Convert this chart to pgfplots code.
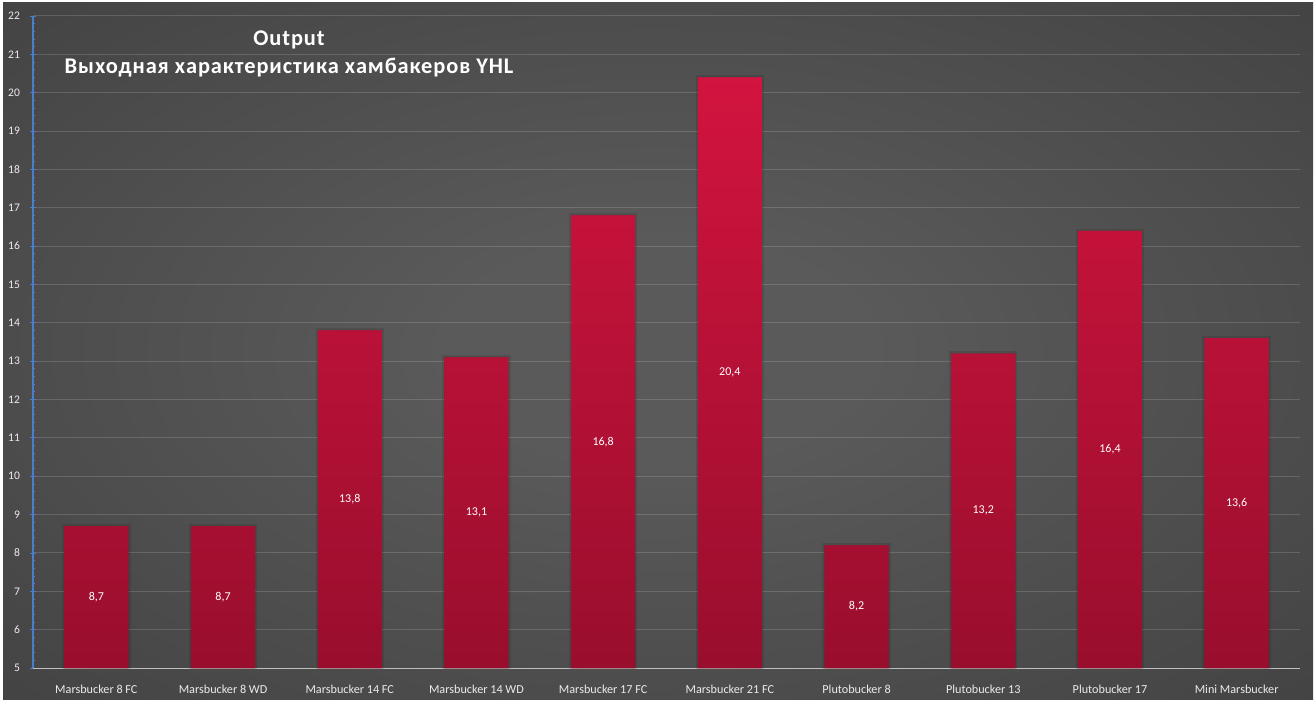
\documentclass[border=0pt]{standalone}
\usepackage{fontspec}
\setmainfont{Carlito}
\newfontfamily\titlefont[LetterSpace=4]{Carlito}
\usepackage{pgfplots}
\pgfplotsset{compat=1.18}
\definecolor{bgin}{HTML}{5A5A5A}
\definecolor{bgout}{HTML}{262626}
\definecolor{bartop}{HTML}{D2143F}
\definecolor{barbot}{HTML}{990E2D}
\definecolor{yaxblue}{HTML}{4A7EC8}
\pgfdeclareradialshading{bgshade}{\pgfpoint{0bp}{0bp}}{color(0bp)=(bgin); color(8bp)=(bgin); color(71bp)=(bgout); color(100bp)=(bgout)}
\begin{document}
\begin{tikzpicture}
\fill[white] (0,0) rectangle (658pt,351pt);
\shade[shading=bgshade] (1.5pt,1.5pt) rectangle (656.5pt,349.5pt);
\begin{axis}[
  at={(16.5pt,17pt)}, anchor=south west,
  scale only axis, width=633.5pt, height=326pt,
  ybar, bar width=32pt,
  xmin=-0.5, xmax=9.5, ymin=0, ymax=17,
  y filter/.expression={y-5},
  ytick={0,...,17},
  yticklabel={\pgfmathparse{int(\tick+5)}\pgfmathresult},
  minor y tick num=4,
  xtick=data,
  xticklabels={Marsbucker 8 FC, Marsbucker 8 WD, Marsbucker 14 FC, Marsbucker 14 WD, Marsbucker 17 FC, Marsbucker 21 FC, Plutobucker 8, Plutobucker 13, Plutobucker 17, Mini Marsbucker},
  axis lines*=left,
  ymajorgrids,
  major grid style={draw=white, opacity=0.15, line width=0.5pt},
  y axis line style={yaxblue, line width=0.6pt},
  x axis line style={white!75!black, line width=0.5pt},
  ytick style={yaxblue, line width=0.4pt},
  xtick style={draw=none},
  tick align=center,
  major tick length=3pt, minor tick length=1.5pt,
  /pgf/number format/assume math mode=true,
  ticklabel style={font=\fontsize{5.8}{6.8}\selectfont, text=white!92!black},
  xticklabel style={font=\fontsize{6.1}{7}\selectfont, yshift=-3.5pt},
  yticklabel style={xshift=-1.5pt},
  nodes near coords={\pgfmathprintnumber[use comma, fixed, fixed zerofill, precision=1]{\rawy}},
  visualization depends on={rawy \as \rawy},
  every node near coord/.append style={font=\fontsize{6}{7}\selectfont, text=white, anchor=center,
     shift={(axis direction cs:0,{-(\rawy-5)/2})}},
]
\addplot[draw=none, top color=bartop, bottom color=barbot,
  preaction={draw=black, draw opacity=0.1, line width=2.2pt}] coordinates {
 (0,8.7) (1,8.7) (2,13.8) (3,13.1) (4,16.8) (5,20.4) (6,8.2) (7,13.2) (8,16.4) (9,13.6)};
\end{axis}
\node[font=\titlefont\fontsize{11.2}{13}\selectfont\bfseries, text=white] at (144.5pt,331pt) {Output};
\node[font=\titlefont\fontsize{11.2}{13}\selectfont\bfseries, text=white] at (144.5pt,317pt) {Выходная характеристика хамбакеров YHL};
\end{tikzpicture}
\end{document}
